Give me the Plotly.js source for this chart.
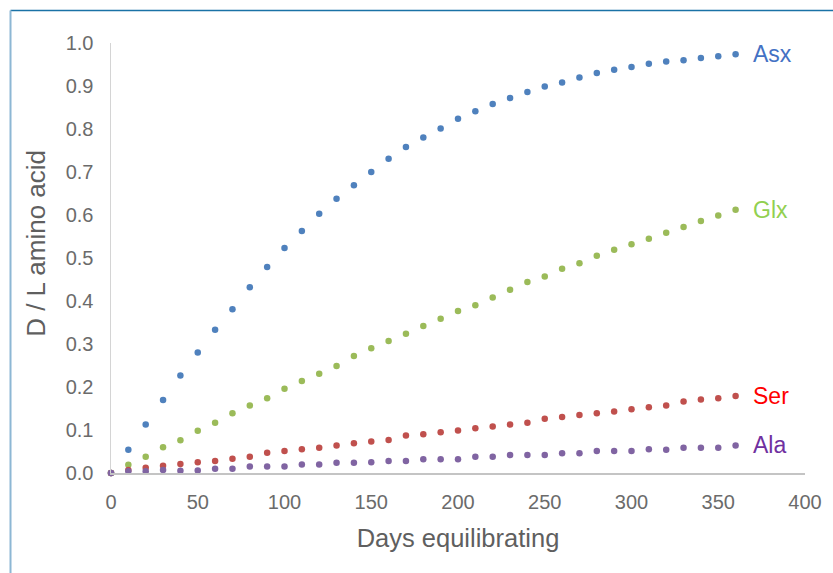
<!DOCTYPE html>
<html>
<head>
<meta charset="utf-8">
<script src="https://cdn.plot.ly/plotly-3.0.1.min.js"></script>
<style>
html,body{margin:0;padding:0;background:#fff;}
#chart{width:833px;height:573px;}
</style>
</head>
<body>
<div id="chart"></div>
<script>
const days = [0,10,20,30,40,50,60,70,80,90,100,110,120,130,140,150,160,170,180,190,200,210,220,230,240,250,260,270,280,290,300,310,320,330,340,350,360];

const asx = [0,0.054,0.113,0.170,0.227,0.280,0.333,0.381,0.432,0.479,0.523,0.563,0.603,0.638,0.669,0.700,0.731,0.758,0.780,0.801,0.824,0.841,0.858,0.872,0.886,0.899,0.908,0.920,0.930,0.938,0.944,0.952,0.957,0.960,0.965,0.969,0.974];
const glx = [0,0.019,0.038,0.060,0.076,0.098,0.117,0.139,0.157,0.174,0.196,0.214,0.231,0.249,0.272,0.290,0.307,0.324,0.342,0.359,0.377,0.390,0.408,0.426,0.444,0.457,0.475,0.488,0.505,0.519,0.532,0.545,0.559,0.572,0.586,0.599,0.612];
const ser = [0,0.007,0.012,0.017,0.021,0.025,0.028,0.033,0.038,0.047,0.051,0.055,0.059,0.064,0.069,0.073,0.077,0.087,0.090,0.095,0.099,0.104,0.108,0.113,0.117,0.126,0.130,0.135,0.139,0.143,0.148,0.153,0.157,0.166,0.171,0.174,0.179];
const ala = [0,0.004,0.004,0.007,0.005,0.006,0.010,0.010,0.015,0.015,0.015,0.020,0.020,0.024,0.024,0.025,0.028,0.028,0.032,0.032,0.032,0.038,0.038,0.042,0.042,0.042,0.046,0.046,0.051,0.051,0.051,0.055,0.054,0.059,0.059,0.059,0.064];

const seriesNames = ["Asx","Glx","Ser","Ala"];
const seriesValues = [asx, glx, ser, ala];
const markerColors = ["#4f81bd","#9bbb59","#c0504d","#8064a2"];
const labelColors = ["#4472c4","#92d050","#ff0000","#7030a0"];

const xTicks = [0,50,100,150,200,250,300,350,400];
const yTicks = [0,0.1,0.2,0.3,0.4,0.5,0.6,0.7,0.8,0.9,1.0];
const xTitle = 'Days equilibrating';
const yTitle = 'D / L amino acid';

const FONT = 'Liberation Sans, Arial, sans-serif';

const traces = seriesNames.map((n,i)=>({
  type:'scatter', mode:'markers', name:n,
  x: days, y: seriesValues[i],
  marker:{color:markerColors[i], size:6.5},
  cliponaxis:false, hoverinfo:'x+y'
}));

const annotations = seriesNames.map((n,i)=>({
  x: days[days.length-1], y: seriesValues[i][seriesValues[i].length-1],
  xref:'x', yref:'y', text:n, showarrow:false, xanchor:'left', yanchor:'middle',
  xshift:15, font:{family:FONT, size:23, color:labelColors[i]}
}));
annotations.push({
  xref:'paper', yref:'paper', x:-0.108, y:0.533, text:yTitle, textangle:-90,
  showarrow:false, xanchor:'center', yanchor:'middle',
  font:{family:FONT, size:26, color:'#5f5f5f'}
});

const layout = {
  width:833, height:573,
  margin:{l:111, r:28, t:43, b:100, pad:0},
  paper_bgcolor:'#ffffff', plot_bgcolor:'#ffffff',
  showlegend:false,
  font:{family:FONT, color:'#6b6b6b'},
  xaxis:{
    range:[0,400], tickvals:xTicks, ticktext:xTicks.map(String),
    showgrid:false, zeroline:false, showline:true, linecolor:'#c4c4c4', linewidth:2,
    ticks:'', ticklabelstandoff:10,
    tickfont:{size:20, color:'#6b6b6b'},
    title:{text:xTitle, font:{size:25.5, color:'#5f5f5f'}, standoff:17}
  },
  yaxis:{
    range:[0,1.0], tickvals:yTicks, ticktext:yTicks.map(v=>v.toFixed(1)),
    showgrid:false, zeroline:false, showline:true, linecolor:'#d4d4d4', linewidth:1.5,
    ticks:'', ticklabelstandoff:12,
    tickfont:{size:20, color:'#6b6b6b'}
  },
  annotations: annotations,
  shapes:[
    {type:'line', xref:'paper', yref:'paper', x0:-0.1448, x1:1.05, y0:1.0756, y1:1.0756, line:{color:'#1a72a6', width:1.5}},
    {type:'line', xref:'paper', yref:'paper', x0:-0.1448, x1:-0.1448, y0:1.0756, y1:-0.25, line:{color:'#8db7d4', width:2}}
  ]
};

Plotly.newPlot('chart', traces, layout, {displayModeBar:false, staticPlot:true});
</script>
</body>
</html>
